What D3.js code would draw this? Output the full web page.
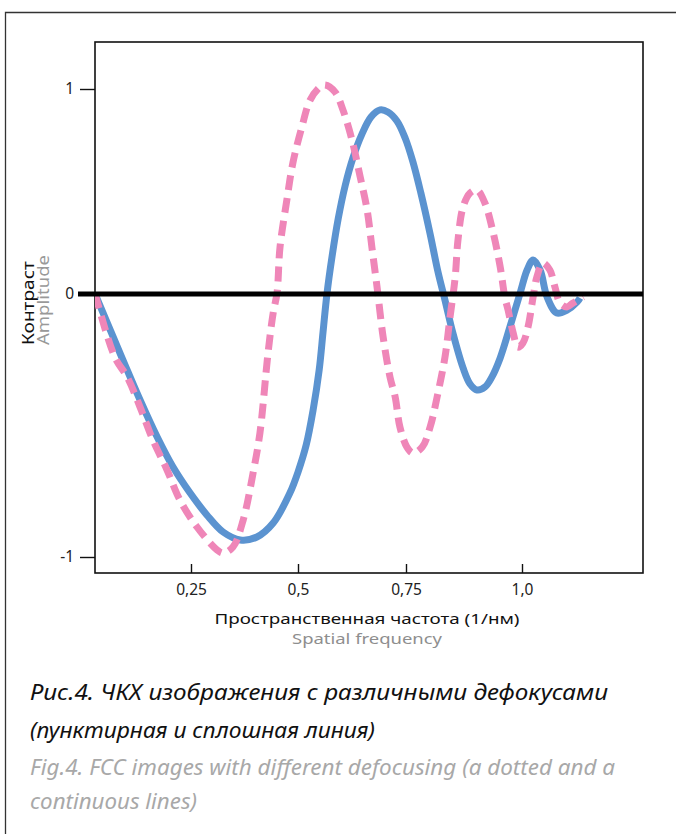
<!DOCTYPE html>
<html><head><meta charset="utf-8">
<script src="https://cdn.jsdelivr.net/npm/d3@7"></script>
<style>
html,body{margin:0;padding:0;background:#fff;}
svg{display:block;}
text{font-family:"Noto Sans","Open Sans",sans-serif;}
</style></head>
<body>
<script>
// ---- data ----
const xTickVals = [0.25, 0.5, 0.75, 1.0];
const xTickLabels = ["0,25", "0,5", "0,75", "1,0"];
const yTickVals = [-1, 0, 1];
const yTickLabels = ["-1", "0", "1"];

// solid line (blue)
const solidX = [0.026,0.091,0.131,0.171,0.208,0.248,0.287,0.325,0.365,0.404,0.442,0.481,0.500,0.519,0.535,0.549,0.558,0.567,0.579,0.593,0.609,0.627,0.648,0.669,0.690,0.708,0.729,0.748,0.765,0.782,0.802,0.819,0.834,0.851,0.873,0.888,0.903,0.920,0.935,0.953,0.974,0.996,1.011,1.024,1.039,1.054,1.075,1.097,1.119,1.125];
const solidY = [0,-0.251,-0.403,-0.544,-0.658,-0.757,-0.840,-0.905,-0.935,-0.924,-0.871,-0.757,-0.677,-0.574,-0.441,-0.289,-0.144,0,0.185,0.366,0.527,0.663,0.780,0.863,0.898,0.888,0.844,0.761,0.644,0.493,0.293,0.107,-0.023,-0.148,-0.281,-0.342,-0.365,-0.354,-0.316,-0.243,-0.125,0.005,0.117,0.166,0.117,-0.011,-0.072,-0.061,-0.030,-0.015];

// dotted line (pink)
const dashX = [0.026,0.072,0.101,0.131,0.161,0.194,0.224,0.264,0.311,0.325,0.348,0.372,0.395,0.411,0.430,0.442,0.451,0.458,0.474,0.488,0.509,0.528,0.551,0.563,0.586,0.604,0.625,0.644,0.660,0.671,0.683,0.697,0.713,0.725,0.736,0.752,0.765,0.785,0.802,0.817,0.834,0.845,0.856,0.862,0.873,0.888,0.903,0.920,0.938,0.953,0.963,0.970,0.981,0.991,1.002,1.013,1.024,1.032,1.045,1.060,1.071,1.082,1.097,1.110,1.132];
const dashY = [0,-0.240,-0.316,-0.430,-0.555,-0.669,-0.783,-0.886,-0.973,-0.985,-0.962,-0.859,-0.681,-0.529,-0.224,-0.072,0.005,0.229,0.459,0.639,0.815,0.946,1.010,1.020,0.985,0.898,0.751,0.571,0.410,0.229,0.034,-0.163,-0.316,-0.392,-0.506,-0.582,-0.605,-0.582,-0.506,-0.392,-0.240,-0.087,0.083,0.263,0.424,0.493,0.507,0.444,0.298,0.132,-0.011,-0.061,-0.148,-0.202,-0.186,-0.125,-0.011,0.083,0.151,0.117,0.034,-0.034,-0.049,-0.034,-0.011];

const W = 676, H = 834;
const svg = d3.select("body").append("svg").attr("width", W).attr("height", H);
svg.append("rect").attr("width", W).attr("height", H).attr("fill", "#fff");

// outer frame (top and left)
svg.append("path").attr("d", `M${W},12.5 H5.5 V${H}`).attr("fill","none").attr("stroke","#333").attr("stroke-width",1.3);

const plot = {left: 95, right: 643, top: 42, bottom: 573};
const x = d3.scaleLinear().domain(xTickVals).range([191, 298, 406, 522]);
const y = d3.scaleLinear().domain(yTickVals).range([557, 294, 89]);

// clip
svg.append("clipPath").attr("id","clip").append("rect")
  .attr("x", plot.left).attr("y", plot.top).attr("width", plot.right-plot.left).attr("height", plot.bottom-plot.top);

// plot box
svg.append("rect").attr("x", plot.left).attr("y", plot.top)
  .attr("width", plot.right-plot.left).attr("height", plot.bottom-plot.top)
  .attr("fill","none").attr("stroke","#111").attr("stroke-width",1.6);

// x axis
const xAxis = svg.append("g").attr("transform", `translate(0,${plot.bottom})`)
  .call(d3.axisBottom(x).tickValues(xTickVals).tickFormat((d,i)=>xTickLabels[i]).tickSizeInner(-9).tickSizeOuter(0).tickPadding(11));
xAxis.select(".domain").remove();
xAxis.selectAll("line").attr("stroke","#111").attr("stroke-width",1.4);
xAxis.selectAll("text").attr("font-size",15.5).attr("fill","#222").attr("font-family","'Noto Sans',sans-serif");

// y axis
const yAxis = svg.append("g").attr("transform", `translate(${plot.left},0)`)
  .call(d3.axisLeft(y).tickValues(yTickVals).tickFormat((d,i)=>yTickLabels[i]).tickSizeInner(15).tickSizeOuter(0).tickPadding(6));
yAxis.select(".domain").remove();
yAxis.selectAll("line").attr("stroke","#111").attr("stroke-width",1.4);
yAxis.selectAll("text").attr("font-size",15.5).attr("fill","#222").attr("font-family","'Noto Sans',sans-serif");

// curves
const line = d3.line().x(d=>x(d[0])).y(d=>y(d[1])).curve(d3.curveCatmullRom.alpha(0.5));
const g = svg.append("g").attr("clip-path","url(#clip)");
g.append("path").datum(solidX.map((v,i)=>[v, solidY[i]]))
  .attr("d", line).attr("fill","none").attr("stroke","#5b93d0").attr("stroke-width",7).attr("stroke-linejoin","round");
g.append("path").datum(dashX.map((v,i)=>[v, dashY[i]]))
  .attr("d", line).attr("fill","none").attr("stroke","#ef86b8").attr("stroke-width",7).attr("stroke-dasharray","15,8");

// zero line
svg.append("line").attr("x1", 78).attr("x2", plot.right).attr("y1", y(0)).attr("y2", y(0))
  .attr("stroke","#000").attr("stroke-width",5);

// axis titles
svg.append("text").attr("x", 367).attr("y", 623.5).attr("text-anchor","middle")
  .attr("font-size",14.5).attr("fill","#111").attr("textLength",305).attr("lengthAdjust","spacingAndGlyphs")
  .text("Пространственная частота (1/нм)");
svg.append("text").attr("x", 367).attr("y", 643.5).attr("text-anchor","middle")
  .attr("font-size",14.5).attr("fill","#8e8e8e").attr("textLength",150).attr("lengthAdjust","spacingAndGlyphs")
  .text("Spatial frequency");
svg.append("text").attr("transform","translate(34,345) rotate(-90)")
  .attr("font-size",15.5).attr("fill","#111").attr("textLength",84).attr("lengthAdjust","spacingAndGlyphs")
  .text("Контраст");
svg.append("text").attr("transform","translate(49,345) rotate(-90)")
  .attr("font-size",15.5).attr("fill","#999").attr("textLength",90).attr("lengthAdjust","spacingAndGlyphs")
  .text("Amplitude");

// caption
const caption = [
  {t:"Рис.4. ЧКХ изображения с различными дефокусами", y:700, w:578, c:"#111"},
  {t:"(пунктирная и сплошная линия)", y:738, w:345, c:"#111"},
  {t:"Fig.4. FCC images with different defocusing (a dotted and a", y:775, w:585, c:"#a8a8a8"},
  {t:"continuous lines)", y:809, w:167, c:"#a8a8a8"}
];
svg.selectAll("text.cap").data(caption).join("text").attr("class","cap")
  .attr("x", 30).attr("y", d=>d.y).attr("font-size",22).attr("font-style","italic")
  .attr("fill", d=>d.c).attr("textLength", d=>d.w).attr("lengthAdjust","spacingAndGlyphs")
  .text(d=>d.t);
</script>
</body></html>
